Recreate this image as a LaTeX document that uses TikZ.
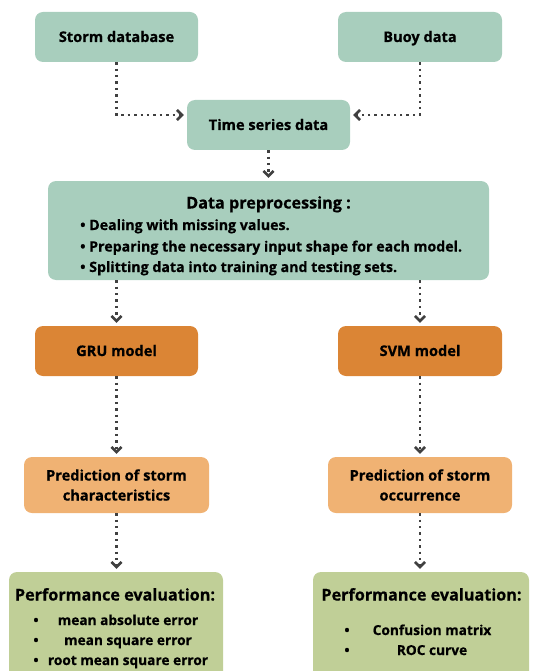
\documentclass[tikz,border=0pt]{standalone}
\usepackage{fontspec}
\setmainfont{Open Sans}[UprightFont=* Bold, FakeBold=0.6]
\usetikzlibrary{arrows.meta}
\definecolor{teal}{HTML}{A8CEBD}
\definecolor{orng}{HTML}{DB8535}
\definecolor{lorng}{HTML}{F0B273}
\definecolor{lgreen}{HTML}{C0CF97}
\definecolor{arrc}{HTML}{404040}
\tikzset{
  box/.style={rounded corners=8pt, draw=none, align=center, inner sep=0pt},
  tealbox/.style={box, fill=teal},
  orbox/.style={box, fill=orng},
  lobox/.style={box, fill=lorng},
  grbox/.style={box, fill=lgreen},
  lbl/.style={font=\fontsize{14.6}{20}\selectfont, align=center, inner sep=0pt},
  big/.style={font=\fontsize{16.2}{20}\selectfont, inner sep=0pt},
  itm/.style={font=\fontsize{14.2}{18}\selectfont, inner sep=0pt},
  pitm/.style={font=\fontsize{13.7}{18}\selectfont, inner sep=0pt},
  arr/.style={draw=arrc, line width=2.4pt, dash pattern=on 2.4pt off 4pt,
    -{Straight Barb[length=5pt,width=10pt,line width=2.6pt]}, shorten >=3pt}
}
\begin{document}
\begin{tikzpicture}[x=1pt,y=-1pt]
\useasboundingbox (0,0) rectangle (533,671);
\clip (0,0) rectangle (533,671);
% boxes
\node[tealbox, minimum width=163pt, minimum height=50pt] (sd) at (116.5,37) {};
\node[lbl, anchor=base] (sdt) at (116.5,42) {Storm database};
\node[tealbox, minimum width=164pt, minimum height=50pt] (bd) at (420,37) {};
\node[lbl, anchor=base] (bdt) at (420,42) {Buoy data};
\node[tealbox, minimum width=163pt, minimum height=50pt] (ts) at (268.5,125) {};
\node[lbl, anchor=base] (tst) at (268.5,130) {Time series data};
\node[tealbox, minimum width=441pt, minimum height=99pt] (pre) at (268.5,230.5) {};
\node[big, anchor=base] (pret) at (268.5,208.5) {Data preprocessing :};
\node[itm, anchor=base west] (p1) at (80,230) {• Dealing with missing values.};
\node[itm, anchor=base west] (p2) at (80,251.5) {• Preparing the necessary input shape for each model.};
\node[itm, anchor=base west] (p3) at (80,272) {• Splitting data into training and testing sets.};
\node[orbox, minimum width=163pt, minimum height=50pt] (gru) at (116.5,351) {};
\node[lbl, anchor=base] (grut) at (116.5,356) {GRU model};
\node[orbox, minimum width=164pt, minimum height=50pt] (svm) at (420,351) {};
\node[lbl, anchor=base] (svmt) at (420,356) {SVM model};
\node[lobox, minimum width=185pt, minimum height=56pt] (pl) at (116.5,485) {};
\node[lbl] (plt) at (pl) {Prediction of storm\\characteristics};
\node[lobox, minimum width=184pt, minimum height=56pt] (pr) at (420,485) {};
\node[lbl] (prt) at (pr) {Prediction of storm\\occurrence};
\node[grbox, minimum width=214pt, minimum height=130pt] (el) at (116,637) {};
\node[big, anchor=base] (elt) at (115,600.5) {Performance evaluation:};
\node[pitm, anchor=base] (e1b) at (36,625) {•};
\node[pitm, anchor=base] (e1) at (128,625) {mean absolute error};
\node[pitm, anchor=base] (e2b) at (36,645) {•};
\node[pitm, anchor=base] (e2) at (128,645) {mean square error};
\node[pitm, anchor=base] (e3b) at (36,665) {•};
\node[pitm, anchor=base] (e3) at (128,665) {root mean square error};
\node[grbox, minimum width=216pt, minimum height=130pt] (er) at (421,637) {};
\node[big, anchor=base] (ert) at (421.5,600.5) {Performance evaluation:};
\node[pitm, anchor=base] (f1b) at (347,635) {•};
\node[pitm, anchor=base] (f1) at (432,635) {Confusion matrix};
\node[pitm, anchor=base] (f2b) at (347,655) {•};
\node[pitm, anchor=base] (f2) at (432,655) {ROC curve};
% connectors
\draw[arr] (sd.south) |- ([yshift=10pt]ts.west);
\draw[arr] (bd.south) |- ([yshift=10pt]ts.east);
\draw[arr] (ts.south) -- (pre.north);
\draw[arr] (gru.north |- pre.south) -- (gru.north);
\draw[arr] (svm.north |- pre.south) -- (svm.north);
\draw[arr] (gru.south) -- (gru.south |- pl.north);
\draw[arr] (svm.south) -- (svm.south |- pr.north);
\draw[arr] (pl.south) -- (pl.south |- el.north);
\draw[arr] (pr.south) -- (pr.south |- er.north);
\end{tikzpicture}
\end{document}
